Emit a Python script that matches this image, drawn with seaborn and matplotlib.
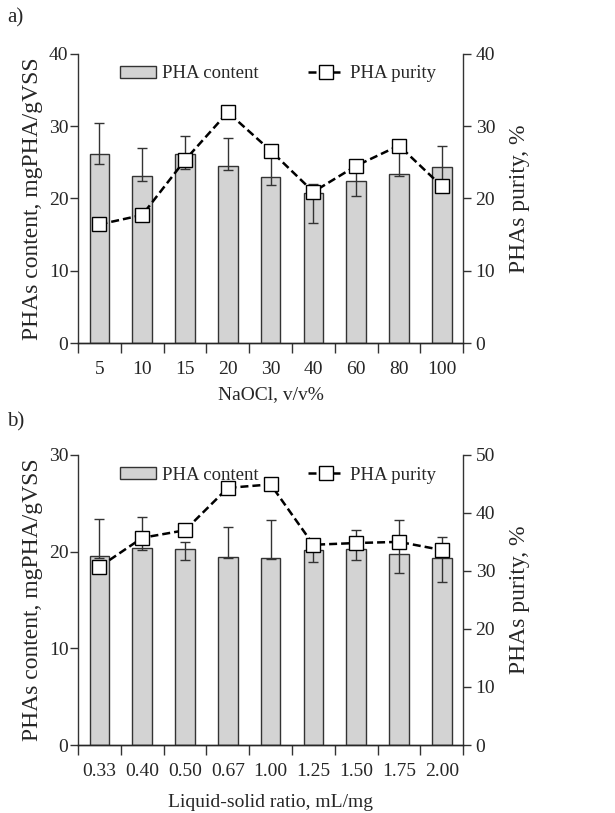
import numpy as np
import pandas as pd
import matplotlib
matplotlib.use('Agg')
import matplotlib.pyplot as plt
import seaborn as sns
from matplotlib.patches import Patch
from matplotlib.lines import Line2D

# panel a: NaOCl dose
naocl = ['5', '10', '15', '20', '30', '40', '60', '80', '100']
content_a = [26.1, 23.1, 26.1, 24.5, 22.9, 20.8, 22.4, 23.3, 24.3]
err_hi_a = [30.4, 26.9, 28.6, 28.4, 26.0, 22.0, 23.8, 26.5, 27.3]
err_lo_a = [24.8, 22.4, 24.1, 23.9, 21.9, 16.6, 20.3, 23.1, 21.0]
purity_a = [16.4, 17.7, 25.3, 31.9, 26.6, 20.9, 24.5, 27.3, 21.7]

# panel b: liquid-solid ratio
ratio = ['0.33', '0.40', '0.50', '0.67', '1.00', '1.25', '1.50', '1.75', '2.00']
content_b = [19.5, 20.4, 20.3, 19.4, 19.3, 20.2, 20.25, 19.7, 19.3]
err_hi_b = [23.4, 23.6, 21.0, 22.5, 23.3, 20.6, 22.2, 23.3, 21.5]
err_lo_b = [19.3, 20.2, 19.1, 19.3, 19.2, 18.9, 19.1, 17.8, 16.9]
purity_b = [30.7, 35.7, 37.0, 44.3, 44.9, 34.5, 34.8, 35.0, 33.6]

sns.set_style('ticks')
plt.rcParams['font.family'] = ['Liberation Serif', 'DejaVu Serif']
plt.rcParams['axes.linewidth'] = 1.0

FS = 14
YFS = 17
bar_col = '#d3d3d3'
dark = '#333333'


def panel(ax, cats, content, hi, lo, purity, ymax_l, ymax_r, xlabel, xpad):
    df = pd.DataFrame({'cat': cats, 'val': content})
    sns.barplot(data=df, x='cat', y='val', order=cats, ax=ax, color=bar_col,
                saturation=1, width=0.46, edgecolor=dark, linewidth=1, errorbar=None)
    xs = np.arange(len(cats))
    content = np.array(content)
    yerr = [content - np.array(lo), np.array(hi) - content]
    ax.errorbar(xs, content, yerr=yerr, fmt='none', ecolor=dark, elinewidth=1,
                capsize=3.5, capthick=1, zorder=3)
    ax.set_xlim(-0.5, len(cats) - 0.5)
    ax.set_ylim(0, ymax_l)
    ax.set_yticks(np.arange(0, ymax_l + 1, 10))
    ax.set_xticks(xs)
    ax.set_xticks(np.arange(-0.5, len(cats), 1), minor=True)
    ax.tick_params(axis='x', which='major', length=0, pad=13, labelsize=FS)
    ax.tick_params(axis='x', which='minor', length=7, width=1, color=dark)
    ax.tick_params(axis='y', length=6, width=1, color=dark, pad=1, labelsize=FS)
    ax.set_xlabel(xlabel, fontsize=FS, labelpad=xpad)
    ax.set_ylabel('PHAs content, mgPHA/gVSS', fontsize=YFS, labelpad=4)
    ax.spines['top'].set_visible(False)
    ax.spines['right'].set_visible(False)
    for s in ['left', 'bottom']:
        ax.spines[s].set_color(dark)

    ax2 = ax.twinx()
    sns.lineplot(x=xs, y=purity, ax=ax2, color='black', marker='s', markersize=10,
                 markerfacecolor='white', markeredgecolor='black', markeredgewidth=1,
                 linewidth=1.8, zorder=5)
    ax2.lines[0].set_dashes((3.2, 1.6))
    ax2.set_ylim(0, ymax_r)
    ax2.set_yticks(np.arange(0, ymax_r + 1, 10))
    ax2.tick_params(axis='y', length=6, width=1, color=dark, pad=3, labelsize=FS)
    ax2.set_ylabel('PHAs purity, %', fontsize=YFS, labelpad=10)
    ax2.spines['top'].set_visible(False)
    ax2.spines['left'].set_visible(False)
    ax2.spines['right'].set_color(dark)

    h_bar = Patch(facecolor=bar_col, edgecolor=dark, linewidth=1)
    h_line = Line2D([], [], color='black', linewidth=1.8, dashes=(3.2, 1.6), marker='s',
                    markersize=10, markerfacecolor='white', markeredgecolor='black')
    ax2.legend([h_bar, h_line], ['PHA content', 'PHA purity'], ncol=2, frameon=False,
               loc='center left', bbox_to_anchor=(0.09, 0.93), fontsize=13.5,
               handlelength=1.9, handleheight=0.6, handletextpad=0.35,
               columnspacing=2.6, borderaxespad=0)


fig = plt.figure(figsize=(6.15, 8.13), dpi=100)
ax_a = fig.add_axes([0.127, 0.578, 0.626, 0.356])
ax_b = fig.add_axes([0.127, 0.0836, 0.626, 0.357])

panel(ax_a, naocl, content_a, err_hi_a, err_lo_a, purity_a, 40, 40, 'NaOCl, v/v%', 6)
panel(ax_b, ratio, content_b, err_hi_b, err_lo_b, purity_b, 30, 50,
      'Liquid-solid ratio, mL/mg', 10)

fig.text(0.012, 0.978, 'a)', fontsize=15, va='center', ha='left')
fig.text(0.012, 0.481, 'b)', fontsize=15, va='center', ha='left')

fig.savefig('out.png', dpi=100)
